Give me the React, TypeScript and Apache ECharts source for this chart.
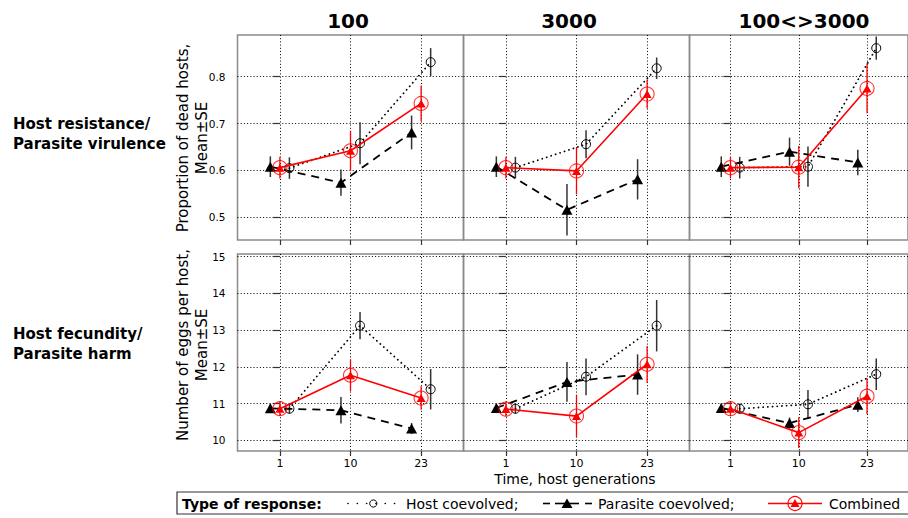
import React, { useEffect, useRef } from "react";
import * as echarts from "echarts";

// ---------- data ----------
const categories = ["1", "10", "23"];
const panelTitles = ["100", "3000", "100<>3000"];
const virulenceTicks = [0.5, 0.6, 0.7, 0.8];
const fecundityTicks = [10, 11, 12, 13, 14, 15];

// Proportion of dead hosts (mean and SE)
const hostVir100 = [0.605, 0.658, 0.831];
const hostVir100SE = [0.023, 0.045, 0.03];
const paraVir100 = [0.608, 0.574, 0.681];
const paraVir100SE = [0.022, 0.028, 0.036];
const combVir100 = [0.606, 0.642, 0.743];
const combVir100SE = [0.023, 0.043, 0.038];

const hostVir3000 = [0.606, 0.656, 0.818];
const hostVir3000SE = [0.023, 0.03, 0.023];
const paraVir3000 = [0.608, 0.516, 0.581];
const paraVir3000SE = [0.022, 0.055, 0.043];
const combVir3000 = [0.606, 0.599, 0.763];
const combVir3000SE = [0.023, 0.05, 0.031];

const hostVirMix = [0.606, 0.608, 0.861];
const hostVirMixSE = [0.023, 0.043, 0.025];
const paraVirMix = [0.608, 0.64, 0.617];
const paraVirMixSE = [0.022, 0.03, 0.027];
const combVirMix = [0.606, 0.607, 0.775];
const combVirMixSE = [0.023, 0.045, 0.053];

// Number of eggs per host (mean and SE)
const hostFec100 = [10.86, 13.12, 11.39];
const hostFec100SE = [0.13, 0.37, 0.55];
const paraFec100 = [10.87, 10.82, 10.32];
const paraFec100SE = [0.12, 0.36, 0.15];
const combFec100 = [10.86, 11.77, 11.15];
const combFec100SE = [0.2, 0.43, 0.32];

const hostFec3000 = [10.86, 11.73, 13.12];
const hostFec3000SE = [0.13, 0.5, 0.7];
const paraFec3000 = [10.88, 11.59, 11.79];
const paraFec3000SE = [0.12, 0.54, 0.55];
const combFec3000 = [10.85, 10.66, 12.07];
const combFec3000SE = [0.2, 0.58, 0.5];

const hostFecMix = [10.86, 10.98, 11.8];
const hostFecMixSE = [0.13, 0.39, 0.43];
const paraFecMix = [10.88, 10.47, 10.97];
const paraFecMixSE = [0.12, 0.15, 0.2];
const combFecMix = [10.86, 10.21, 11.2];
const combFecMixSE = [0.2, 0.42, 0.48];

// ---------- layout ----------
const FONT = "DejaVu Sans";
const DODGE = 0.135;
const COL_LEFT = [237.5, 463.5, 689.5];
const COL_W = 226;
const ROW_TOP = [35, 254];
const ROW_H = [205, 197];
const Y_MIN = [0.4516, 9.71];
const Y_MAX = [0.889, 15.07];
const RED = "#ff0000";

const panels = [
  { row: 0, col: 0, h: hostVir100, hs: hostVir100SE, p: paraVir100, ps: paraVir100SE, c: combVir100, cs: combVir100SE },
  { row: 0, col: 1, h: hostVir3000, hs: hostVir3000SE, p: paraVir3000, ps: paraVir3000SE, c: combVir3000, cs: combVir3000SE },
  { row: 0, col: 2, h: hostVirMix, hs: hostVirMixSE, p: paraVirMix, ps: paraVirMixSE, c: combVirMix, cs: combVirMixSE },
  { row: 1, col: 0, h: hostFec100, hs: hostFec100SE, p: paraFec100, ps: paraFec100SE, c: combFec100, cs: combFec100SE },
  { row: 1, col: 1, h: hostFec3000, hs: hostFec3000SE, p: paraFec3000, ps: paraFec3000SE, c: combFec3000, cs: combFec3000SE },
  { row: 1, col: 2, h: hostFecMix, hs: hostFecMixSE, p: paraFecMix, ps: paraFecMixSE, c: combFecMix, cs: combFecMixSE },
];

function errSeries(gi: number, off: number, ys: number[], se: number[], color: string, width: number, z: number) {
  return {
    type: "custom",
    xAxisIndex: gi,
    yAxisIndex: gi,
    z,
    silent: true,
    clip: false,
    data: ys.map((y, k) => [k + off, y - se[k], y + se[k]]),
    encode: { x: 0, y: [1, 2] },
    renderItem: (params: any, api: any) => {
      const x = api.value(0);
      const p1 = api.coord([x, api.value(1)]);
      const p2 = api.coord([x, api.value(2)]);
      return {
        type: "line",
        shape: { x1: p1[0], y1: p1[1], x2: p2[0], y2: p2[1] },
        style: { stroke: color, lineWidth: width },
      };
    },
  };
}

function txt(text: string, x: number, y: number, size: number, opts: any = {}) {
  const align = opts.align || "left";
  const el: any = {
    type: "text",
    x,
    y,
    rotation: opts.rotation || 0,
    silent: true,
    style: {
      text,
      x: 0,
      y: 0,
      fontSize: size,
      fontWeight: opts.bold ? "bold" : "normal",
      fontFamily: FONT,
      fill: "#000",
      align,
      verticalAlign: "middle",
      textAlign: align,
      textVerticalAlign: "middle",
    },
  };
  return el;
}

export default function App() {
  const ref = useRef<HTMLDivElement>(null);
  useEffect(() => {
    if (!ref.current) return;
    const chart = echarts.init(ref.current, undefined, { renderer: "svg" });

    const grid: any[] = [];
    const xAxis: any[] = [];
    const yAxis: any[] = [];
    const series: any[] = [];

    panels.forEach((pn, gi) => {
      grid.push({
        left: COL_LEFT[pn.col],
        top: ROW_TOP[pn.row],
        width: COL_W,
        height: ROW_H[pn.row],
        show: true,
        borderColor: "#8a8a8a",
        borderWidth: 1.5,
        backgroundColor: "transparent",
      });
      xAxis.push({
        type: "value",
        gridIndex: gi,
        min: -0.6,
        max: 2.6,
        axisLine: { show: false },
        axisTick: {
          show: true,
          customValues: [0, 1, 2],
          length: 5,
          lineStyle: { color: "#333", width: 1.2 },
        },
        axisLabel: {
          show: pn.row === 1,
          customValues: [0, 1, 2],
          formatter: (v: number) => categories[Math.round(v)],
          fontSize: 11,
          fontFamily: FONT,
          color: "#000",
          margin: 7,
        },
        splitLine: { show: true, lineStyle: { color: "#000", width: 1, type: [1, 2.2] } },
      });
      const ticks = pn.row === 0 ? virulenceTicks : fecundityTicks;
      yAxis.push({
        type: "value",
        gridIndex: gi,
        min: Y_MIN[pn.row],
        max: Y_MAX[pn.row],
        axisLine: { show: false },
        axisTick: {
          show: true,
          customValues: ticks,
          length: 7,
          lineStyle: { color: "#333", width: 1.2 },
        },
        axisLabel: {
          show: pn.col === 0,
          customValues: ticks,
          formatter: (v: number) => (pn.row === 0 ? v.toFixed(1) : String(Math.round(v))),
          fontSize: 10.5,
          fontFamily: FONT,
          color: "#000",
          margin: 12,
        },
        splitLine: { show: true, lineStyle: { color: "#000", width: 1, type: [1, 2.2] } },
      });

      // Host coevolved
      series.push(errSeries(gi, DODGE, pn.h, pn.hs, "#333", 1.5, 2));
      series.push({
        type: "line",
        name: "Host coevolved",
        xAxisIndex: gi,
        yAxisIndex: gi,
        z: 3,
        silent: true,
        data: pn.h.map((v, k) => [k + DODGE, v]),
        symbol: "circle",
        symbolSize: 9,
        showAllSymbol: true,
        lineStyle: { color: "#000", width: 1.8, type: [0.1, 4.6], cap: "round" },
        itemStyle: { color: "rgba(0,0,0,0)", borderColor: "#000", borderWidth: 1 },
      });
      // Parasite coevolved
      series.push(errSeries(gi, -DODGE, pn.p, pn.ps, "#333", 1.5, 4));
      series.push({
        type: "line",
        name: "Parasite coevolved",
        xAxisIndex: gi,
        yAxisIndex: gi,
        z: 5,
        silent: true,
        data: pn.p.map((v, k) => [k - DODGE, v]),
        symbol: "triangle",
        symbolSize: [11, 10],
        showAllSymbol: true,
        lineStyle: { color: "#000", width: 1.8, type: [8, 6] },
        itemStyle: { color: "#000" },
      });
      // Combined
      series.push(errSeries(gi, 0, pn.c, pn.cs, RED, 1.3, 6));
      series.push({
        type: "line",
        name: "Combined",
        xAxisIndex: gi,
        yAxisIndex: gi,
        z: 7,
        silent: true,
        data: pn.c.map((v, k) => [k, v]),
        symbol: "triangle",
        symbolSize: [9, 8],
        showAllSymbol: true,
        lineStyle: { color: RED, width: 1.6 },
        itemStyle: { color: RED },
      });
      series.push({
        type: "scatter",
        xAxisIndex: gi,
        yAxisIndex: gi,
        z: 8,
        silent: true,
        data: pn.c.map((v, k) => [k, v]),
        symbol: "circle",
        symbolSize: 14,
        itemStyle: { color: "rgba(0,0,0,0)", borderColor: RED, borderWidth: 1.1 },
      });
    });

    const graphic: any[] = [];
    // column titles
    const titleX = [348, 569, 804];
    panelTitles.forEach((t, i) => graphic.push(txt(t, titleX[i], 21, 20, { bold: true, align: "center" })));
    // row labels
    graphic.push(txt("Host resistance/", 13, 124, 15, { bold: true }));
    graphic.push(txt("Parasite virulence", 13, 144, 15, { bold: true }));
    graphic.push(txt("Host fecundity/", 13, 334, 15, { bold: true }));
    graphic.push(txt("Parasite harm", 13, 354, 15, { bold: true }));
    // y axis titles
    graphic.push(txt("Proportion of dead hosts,", 183, 138, 15, { align: "center", rotation: Math.PI / 2 }));
    graphic.push(txt("Mean±SE", 202, 138, 15, { align: "center", rotation: Math.PI / 2 }));
    graphic.push(txt("Number of eggs per host,", 183, 345, 15, { align: "center", rotation: Math.PI / 2 }));
    graphic.push(txt("Mean±SE", 202, 345, 15, { align: "center", rotation: Math.PI / 2 }));
    // x axis title
    graphic.push(txt("Time, host generations", 575, 479, 14, { align: "center" }));

    // legend
    const ly = 503.5;
    graphic.push({
      type: "rect",
      silent: true,
      shape: { x: 177, y: 492, width: 745, height: 22 },
      style: { fill: "none", stroke: "#333", lineWidth: 1.2 },
    });
    graphic.push(txt("Type of response:", 182, ly, 14, { bold: true }));
    graphic.push({
      type: "line",
      silent: true,
      shape: { x1: 348, y1: ly, x2: 401, y2: ly },
      style: { stroke: "#000", lineWidth: 1.6, lineDash: [0.1, 9.2], lineCap: "round" },
    });
    graphic.push({
      type: "circle",
      silent: true,
      shape: { cx: 373.3, cy: ly, r: 3.6 },
      style: { fill: "none", stroke: "#000", lineWidth: 1 },
    });
    graphic.push(txt("Host coevolved;", 406, ly, 14));
    [[543, 550], [555, 579], [585, 592]].forEach(([a, b]) =>
      graphic.push({
        type: "line",
        silent: true,
        shape: { x1: a, y1: ly, x2: b, y2: ly },
        style: { stroke: "#000", lineWidth: 1.6 },
      })
    );
    graphic.push({
      type: "polygon",
      silent: true,
      shape: { points: [[561.5, ly + 4.5], [572.5, ly + 4.5], [567, ly - 5]] },
      style: { fill: "#000" },
    });
    graphic.push(txt("Parasite coevolved;", 598, ly, 14));
    graphic.push({
      type: "line",
      silent: true,
      shape: { x1: 768, y1: ly, x2: 822, y2: ly },
      style: { stroke: RED, lineWidth: 1.5 },
    });
    graphic.push({
      type: "circle",
      silent: true,
      shape: { cx: 795, cy: ly, r: 7 },
      style: { fill: "none", stroke: RED, lineWidth: 1.1 },
    });
    graphic.push({
      type: "polygon",
      silent: true,
      shape: { points: [[790.5, ly + 3.5], [799.5, ly + 3.5], [795, ly - 4.5]] },
      style: { fill: RED },
    });
    graphic.push(txt("Combined", 829, ly, 14));

    chart.setOption({
      animation: false,
      backgroundColor: "#fff",
      textStyle: { fontFamily: FONT },
      grid,
      xAxis,
      yAxis,
      series,
      graphic,
    });
    return () => chart.dispose();
  }, []);
  return (
    <div
      ref={ref}
      style={{ position: "fixed", left: 0, top: 0, width: 908, height: 518 }}
    />
  );
}
